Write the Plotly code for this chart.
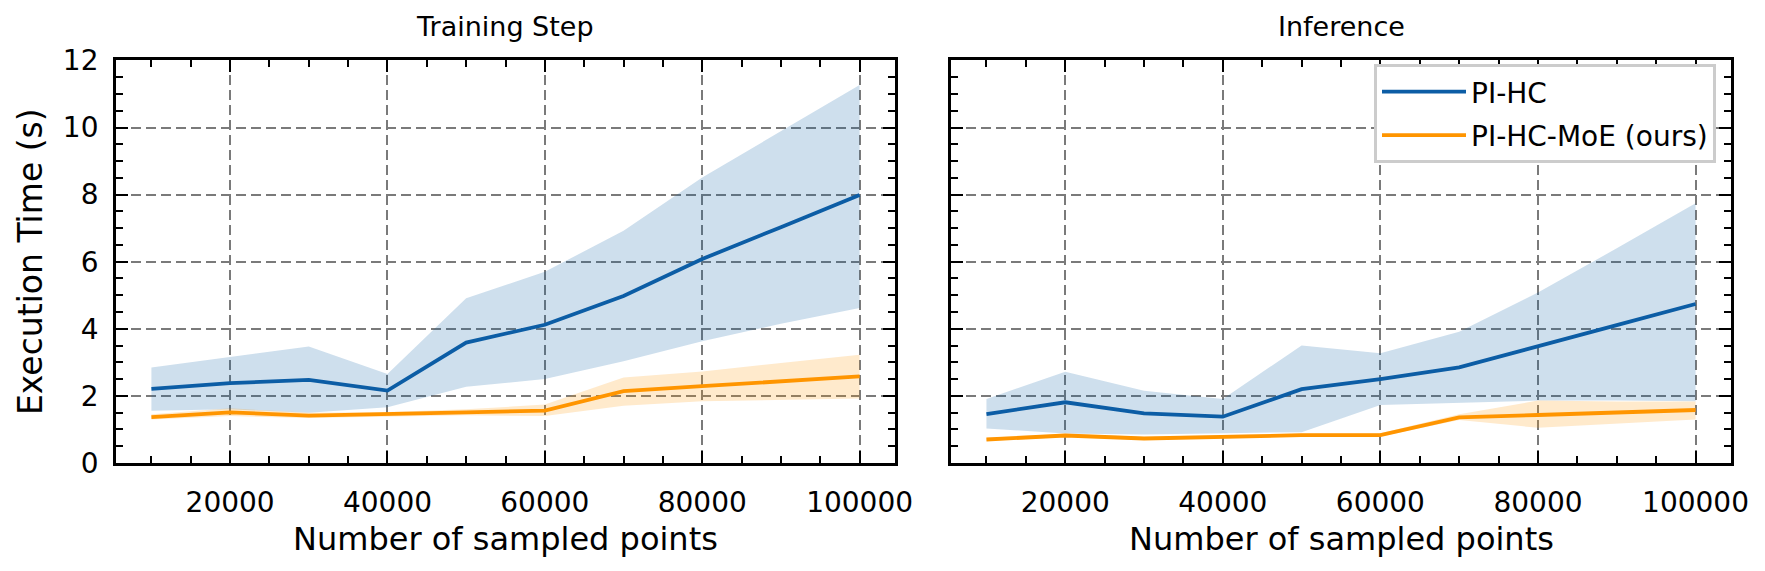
import plotly.graph_objects as go

# ---------------- data ----------------
n_points = [10000, 20000, 30000, 40000, 50000, 60000, 70000, 80000, 90000, 100000]

train_pihc_mean = [2.21, 2.38, 2.48, 2.16, 3.59, 4.12, 4.98, 6.08, 7.03, 7.99]
train_pihc_upper = [2.85, 3.15, 3.47, 2.65, 4.91, 5.70, 6.92, 8.51, 9.90, 11.27]
train_pihc_lower = [1.56, 1.60, 1.50, 1.66, 2.27, 2.50, 3.03, 3.63, 4.15, 4.62]

train_moe_mean = [1.37, 1.51, 1.41, 1.45, 1.51, 1.56, 2.14, 2.29, 2.43, 2.58]
train_moe_upper = [1.45, 1.63, 1.50, 1.52, 1.60, 1.74, 2.55, 2.73, 2.98, 3.23]
train_moe_lower = [1.30, 1.40, 1.34, 1.38, 1.42, 1.40, 1.71, 1.84, 1.88, 1.92]

inf_pihc_mean = [1.46, 1.81, 1.48, 1.38, 2.20, 2.50, 2.85, 3.49, 4.11, 4.74]
inf_pihc_upper = [1.91, 2.72, 2.15, 1.91, 3.50, 3.27, 3.91, 5.08, 6.40, 7.74]
inf_pihc_lower = [1.03, 0.88, 0.85, 0.88, 0.92, 1.73, 1.80, 1.86, 1.86, 1.84]

inf_moe_mean = [0.70, 0.82, 0.73, 0.78, 0.83, 0.83, 1.36, 1.43, 1.51, 1.58]
inf_moe_upper = [0.75, 0.87, 0.78, 0.82, 0.88, 0.89, 1.45, 1.86, 1.83, 1.83]
inf_moe_lower = [0.66, 0.77, 0.69, 0.74, 0.79, 0.79, 1.28, 1.05, 1.18, 1.30]

x_tick_vals = [20000, 40000, 60000, 80000, 100000]
x_tick_text = ["20000", "40000", "60000", "80000", "100000"]
y_tick_vals = [0, 2, 4, 6, 8, 10, 12]
y_tick_text = ["0", "2", "4", "6", "8", "10", "12"]

series_names = ["PI-HC", "PI-HC-MoE (ours)"]
panel_titles = ["Training Step", "Inference"]
x_title = "Number of sampled points"
y_title = "Execution Time (s)"

# ---------------- style ----------------
BLUE = "#0C5DA5"
ORANGE = "#FF9500"
BLUE_FILL = "rgba(12,93,165,0.2)"
ORANGE_FILL = "rgba(255,149,0,0.2)"
FONT = "DejaVu Sans"
OFF = 8                      # page body margin of the html page
WIN_W, WIN_H = 1765, 571
W, H = WIN_W - 2 * OFF, WIN_H - 2 * OFF


def px(x):   # window pixel -> paper x
    return (x - OFF) / W


def py(y):   # window pixel -> paper y
    return 1 - (y - OFF) / H


fig = go.Figure()

panels = [
    ("x", "y", [(train_pihc_mean, train_pihc_upper, train_pihc_lower, BLUE, BLUE_FILL),
                (train_moe_mean, train_moe_upper, train_moe_lower, ORANGE, ORANGE_FILL)]),
    ("x2", "y2", [(inf_pihc_mean, inf_pihc_upper, inf_pihc_lower, BLUE, BLUE_FILL),
                  (inf_moe_mean, inf_moe_upper, inf_moe_lower, ORANGE, ORANGE_FILL)]),
]

for pi, (xa, ya, series) in enumerate(panels):
    for si, (mean, up, lo, col, fcol) in enumerate(series):
        fig.add_trace(go.Scatter(x=n_points, y=up, xaxis=xa, yaxis=ya, mode="lines",
                                 line=dict(width=0, color=col), showlegend=False,
                                 hoverinfo="skip"))
        fig.add_trace(go.Scatter(x=n_points, y=lo, xaxis=xa, yaxis=ya, mode="lines",
                                 line=dict(width=0, color=col), fill="tonexty",
                                 fillcolor=fcol, showlegend=False, hoverinfo="skip"))
        fig.add_trace(go.Scatter(x=n_points, y=mean, xaxis=xa, yaxis=ya, mode="lines",
                                 line=dict(width=3.8, color=col), name=series_names[si],
                                 legendgroup="g%d" % si, showlegend=(pi == 0)))

x_dom1 = [px(116), px(895)]
x_dom2 = [px(951), px(1731)]
y_dom = [py(463), py(60.4)]


def xaxis_cfg(dom, anchor):
    return dict(
        domain=dom, anchor=anchor, range=[5500, 104500], automargin=False,
        tickmode="array", tickvals=x_tick_vals, ticktext=x_tick_text,
        ticks="inside", ticklen=12, tickwidth=2.4, tickcolor="black",
        minor=dict(dtick=5000, tick0=0, ticks="inside", ticklen=7, tickwidth=1.8,
                   tickcolor="black", showgrid=False),
        showline=True, linewidth=2.8, linecolor="black", mirror="allticks",
        showgrid=True, gridcolor="#7a7a7a", gridwidth=1.6, griddash="10px,5px",
        zeroline=False, ticklabelstandoff=12,
        tickfont=dict(family=FONT, size=28, color="black"),
    )


def yaxis_cfg(anchor, labels):
    return dict(
        domain=y_dom, anchor=anchor, range=[0, 12], automargin=False,
        tickmode="array", tickvals=y_tick_vals, ticktext=y_tick_text,
        showticklabels=labels,
        ticks="inside", ticklen=12, tickwidth=2.4, tickcolor="black",
        minor=dict(dtick=0.5, tick0=0, ticks="inside", ticklen=7, tickwidth=1.8,
                   tickcolor="black", showgrid=False),
        showline=True, linewidth=2.8, linecolor="black", mirror="allticks",
        showgrid=True, gridcolor="#7a7a7a", gridwidth=1.6, griddash="10px,5px",
        zeroline=False, ticklabelstandoff=9,
        tickfont=dict(family=FONT, size=28, color="black"),
    )


annotations = []
for dom, t in zip([x_dom1, x_dom2], panel_titles):
    cx = (dom[0] + dom[1]) / 2
    annotations.append(dict(text=t, x=cx, y=py(27), xref="paper", yref="paper",
                            xanchor="center", yanchor="middle", showarrow=False,
                            font=dict(family=FONT, size=27, color="black")))
    annotations.append(dict(text=x_title, x=cx, y=py(539), xref="paper", yref="paper",
                            xanchor="center", yanchor="middle", showarrow=False,
                            font=dict(family=FONT, size=32, color="black")))
annotations.append(dict(text=y_title, x=px(30), y=py(262), xref="paper", yref="paper",
                        xanchor="center", yanchor="middle", showarrow=False, textangle=-90,
                        font=dict(family=FONT, size=33, color="black")))

fig.update_layout(
    width=W, height=H,
    margin=dict(l=0, r=0, t=0, b=0, autoexpand=False),
    paper_bgcolor="white", plot_bgcolor="white",
    xaxis=xaxis_cfg(x_dom1, "y"),
    yaxis=yaxis_cfg("x", True),
    xaxis2=xaxis_cfg(x_dom2, "y2"),
    yaxis2=yaxis_cfg("x2", False),
    annotations=annotations,
    legend=dict(x=px(1716), y=py(64), xanchor="right", yanchor="top",
                bgcolor="white", bordercolor="#cccccc", borderwidth=3,
                traceorder="grouped", tracegroupgap=4, itemwidth=84,
                font=dict(family=FONT, size=28, color="black")),
    font=dict(family=FONT, color="black"),
)

fig.write_html("out.html")
